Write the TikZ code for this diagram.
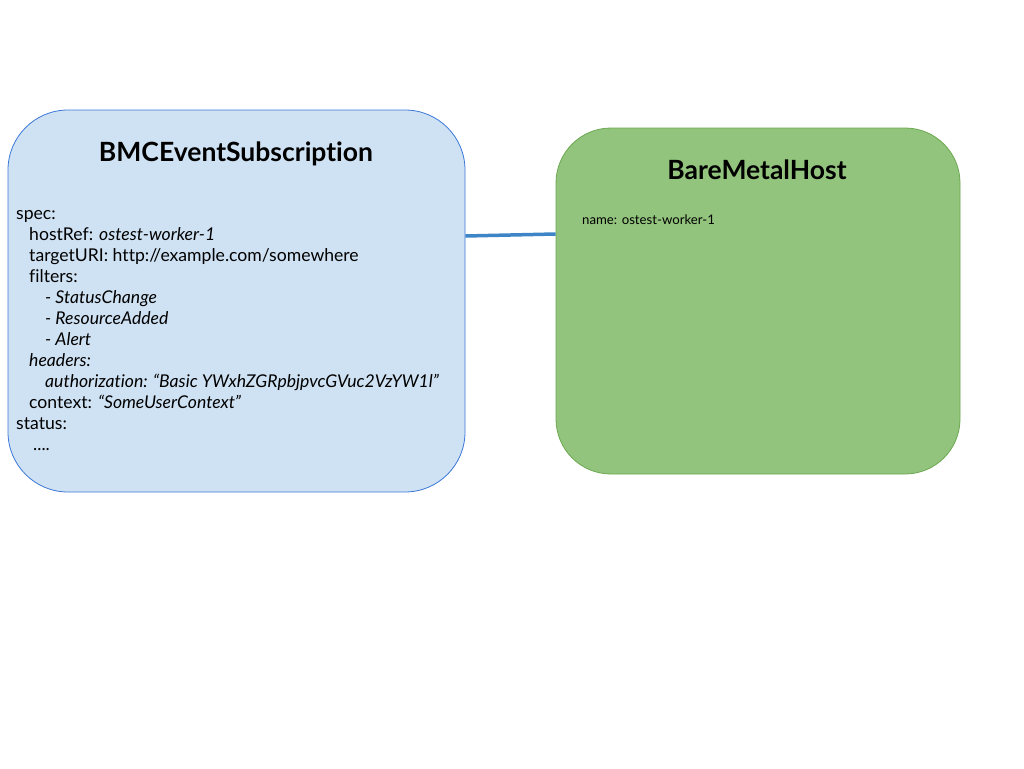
\documentclass[tikz,border=0pt]{standalone}
\usepackage{fontspec}
\setmainfont{Lato}[Ligatures=NoCommon]
\usepackage{tikz}

\definecolor{subfill}{HTML}{CFE2F3}
\definecolor{subdraw}{HTML}{3C78D8}
\definecolor{hostfill}{HTML}{93C47D}
\definecolor{hostdraw}{HTML}{6AA84F}
\definecolor{linkblue}{HTML}{3D85C6}

\begin{document}
\begin{tikzpicture}[x=1pt, y=-1pt,
    resource/.style={rectangle, inner sep=0pt, line width=0.8pt},
    title/.style={font=\fontsize{26.5}{30}\selectfont\bfseries},
    yaml/.style={anchor=north west, inner sep=0pt, align=left,
        font=\fontsize{17.6}{21}\selectfont},
    link/.style={linkblue, line width=3.5pt}]
    \useasboundingbox (0, 0) rectangle (1024, 768);

    % the two resources
    \node[resource, fill=subfill, draw=subdraw, rounded corners=60pt,
        minimum width=457pt, minimum height=382pt] (sub) at (236.5, 301) {};
    \node[resource, fill=hostfill, draw=hostdraw, rounded corners=55pt,
        minimum width=404pt, minimum height=346pt] (bmh) at (758, 301) {};

    \node[title] (subtitle) at (236, 154) {BMCEventSubscription};
    \node[title] (bmhtitle) at (757, 170) {BareMetalHost};

    % spec of the subscription
    \node[yaml] (subspec) at (16, 210) {spec:\\
        \hspace*{13pt}hostRef: \textit{ostest-worker-1}\\
        \hspace*{13pt}targetURI: http://example.com/somewhere\\
        \hspace*{13pt}filters:\\
        \hspace*{29pt}\textit{- StatusChange}\\
        \hspace*{29pt}\textit{- ResourceAdded}\\
        \hspace*{29pt}\textit{- Alert}\\
        \hspace*{13pt}\textit{headers:}\\
        \hspace*{29pt}\textit{authorization: “Basic YWxhZGRpbjpvcGVuc2VzYW1l”}\\
        \hspace*{13pt}context: \textit{“SomeUserContext”}\\
        status:\\
        \hspace*{17pt}....};

    \node[anchor=west, inner sep=0pt, font=\fontsize{13.2}{15}\selectfont]
        (bmhname) at (582, 220) {name: ostest-worker-1};

    \draw[link] ([yshift=65pt]sub.east) -- ([yshift=67pt]bmh.west);
\end{tikzpicture}
\end{document}
